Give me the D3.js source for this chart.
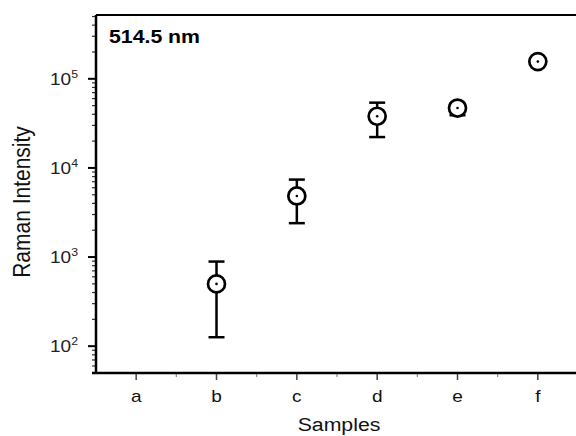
<!DOCTYPE html>
<html>
<head>
  <meta charset="utf-8" />
  <script src="https://cdn.jsdelivr.net/npm/d3@7"></script>
  <style>
    body { margin: 0; background: white; }
    svg { font-family: "Liberation Sans", Arial, sans-serif; }
  </style>
</head>
<body>
  <svg id="chart" width="576" height="436"></svg>
  <script>
    var samples = ["a", "b", "c", "d", "e", "f"];
    // mean intensity and error bar ends (b..f; "a" has no point)
    var intensity = [null, 500, 4850, 38000, 47000, 156000];
    var errLow    = [null, 126, 2400, 22200, 39000, 145000];
    var errHigh   = [null, 890, 7400, 54000, 53000, 167000];
    var yTicks = [100, 1000, 10000, 100000];

    var svg = d3.select("#chart");
    var padL = 96, padR = 578, padT = 15, padB = 373;
    var sx = 1.12; // text looks a little stretched sideways in the original

    var x = d3.scaleLinear().domain([-0.5, samples.length - 0.5]).range([padL, padR]);
    var y = d3.scaleLog().domain([50, 520000]).range([padB, padT]);

    // minor ticks on y
    var minor = [];
    for (var e = 1; e <= 5; e++) {
      for (var m = 2; m < 10; m++) {
        var v = m * Math.pow(10, e);
        if (v >= 50 && v <= 520000) minor.push(v);
      }
    }
    svg.append("g").selectAll("line").data(minor).join("line")
      .attr("x1", padL - 4).attr("x2", padL)
      .attr("y1", d => y(d)).attr("y2", d => y(d))
      .attr("stroke", "#333").attr("stroke-width", 1.2);

    svg.append("g").selectAll("line").data(yTicks).join("line")
      .attr("x1", padL - 8).attr("x2", padL)
      .attr("y1", d => y(d)).attr("y2", d => y(d))
      .attr("stroke", "#000").attr("stroke-width", 2);

    var lab = svg.append("g").selectAll("text").data(yTicks).join("text")
      .attr("transform", d => "translate(78," + (y(d) + 6) + ") scale(" + sx + ",1)")
      .attr("text-anchor", "end").attr("font-size", 17).attr("fill", "#222");
    lab.append("tspan").text("10");
    lab.append("tspan").attr("font-size", 11).attr("dy", -7)
      .text(d => Math.round(Math.log10(d)));

    // x ticks (major at samples, minor in between)
    var xMinor = d3.range(0, samples.length - 1).map(i => i + 0.5);
    svg.append("g").selectAll("line").data(xMinor).join("line")
      .attr("x1", d => x(d)).attr("x2", d => x(d))
      .attr("y1", padB).attr("y2", padB + 4)
      .attr("stroke", "#888").attr("stroke-width", 1.2);
    svg.append("g").selectAll("line").data(samples).join("line")
      .attr("x1", (d, i) => x(i)).attr("x2", (d, i) => x(i))
      .attr("y1", padB).attr("y2", padB + 7)
      .attr("stroke", "#444").attr("stroke-width", 1.5);
    svg.append("g").selectAll("text").data(samples).join("text")
      .attr("transform", (d, i) => "translate(" + x(i) + "," + (padB + 29) + ") scale(" + sx + ",1)")
      .attr("text-anchor", "middle").attr("font-size", 17).attr("fill", "#111")
      .text(d => d);

    // axes frame
    svg.append("line").attr("x1", padL).attr("x2", 576).attr("y1", padT).attr("y2", padT)
      .attr("stroke", "#000").attr("stroke-width", 2);
    svg.append("line").attr("x1", padL).attr("x2", padL).attr("y1", padT).attr("y2", padB)
      .attr("stroke", "#000").attr("stroke-width", 2.5);
    svg.append("line").attr("x1", padL - 4).attr("x2", 576).attr("y1", padB).attr("y2", padB)
      .attr("stroke", "#000").attr("stroke-width", 2.5);

    // error bars + points
    var pts = samples.map((s, i) => ({i: i, v: intensity[i], lo: errLow[i], hi: errHigh[i]}))
      .filter(d => d.v != null);
    var g = svg.append("g");
    g.selectAll(".eb").data(pts).join("line")
      .attr("x1", d => x(d.i)).attr("x2", d => x(d.i))
      .attr("y1", d => y(d.lo)).attr("y2", d => y(d.hi))
      .attr("stroke", "#000").attr("stroke-width", 2.5);
    g.selectAll(".cap1").data(pts).join("line")
      .attr("x1", d => x(d.i) - 8).attr("x2", d => x(d.i) + 8)
      .attr("y1", d => y(d.lo)).attr("y2", d => y(d.lo))
      .attr("stroke", "#000").attr("stroke-width", 2.5);
    g.selectAll(".cap2").data(pts).join("line")
      .attr("x1", d => x(d.i) - 8).attr("x2", d => x(d.i) + 8)
      .attr("y1", d => y(d.hi)).attr("y2", d => y(d.hi))
      .attr("stroke", "#000").attr("stroke-width", 2.5);
    g.selectAll("circle.m").data(pts).join("circle")
      .attr("cx", d => x(d.i)).attr("cy", d => y(d.v)).attr("r", 8.5)
      .attr("fill", "white").attr("stroke", "#000").attr("stroke-width", 2.7);
    g.selectAll("circle.c").data(pts).join("circle")
      .attr("cx", d => x(d.i)).attr("cy", d => y(d.v)).attr("r", 1.3)
      .attr("fill", "#000");

    // labels
    svg.append("text").attr("transform", "translate(109,43) scale(" + sx + ",1)")
      .attr("font-size", 19).attr("font-weight", "bold").text("514.5 nm");
    svg.append("text").attr("transform", "translate(30,202) rotate(-90) scale(1," + sx + ")")
      .attr("text-anchor", "middle").attr("font-size", 21).attr("fill", "#111")
      .text("Raman Intensity");
    svg.append("text").attr("transform", "translate(339,431) scale(" + sx + ",1)")
      .attr("text-anchor", "middle").attr("font-size", 19).attr("fill", "#111")
      .text("Samples");
  </script>
</body>
</html>
